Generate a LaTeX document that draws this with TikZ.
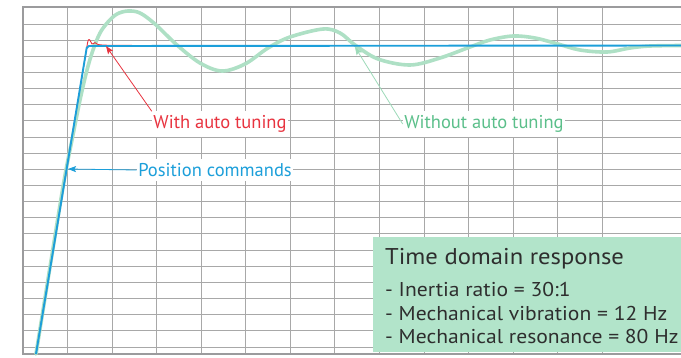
\documentclass[tikz,border=0pt]{standalone}
\usepackage{fontspec}
\setmainfont{PT Sans}
\newfontfamily\boxfont[FakeStretch=1.08]{PT Sans}
\usetikzlibrary{arrows.meta}
\definecolor{gridc}{HTML}{A8A8A8}
\definecolor{framec}{HTML}{9B9B9D}
\definecolor{bluec}{HTML}{1C9FDA}
\definecolor{redc}{HTML}{E8333F}
\definecolor{greenl}{HTML}{AEE0C5}
\definecolor{greent}{HTML}{5BBF8A}
\definecolor{boxc}{HTML}{B2E4CA}
\definecolor{textc}{HTML}{2E2E2E}
\tikzset{
  gridline/.style={gridc, line width=1pt},
  lbl/.style={fill=white, inner xsep=1.5pt, inner ysep=4pt, font=\fontsize{18.5}{20}\selectfont},
  boxtitle/.style={anchor=base west, inner sep=0pt, text=textc, font=\boxfont\fontsize{22.8}{24}\selectfont},
  boxline/.style={anchor=base west, inner sep=0pt, text=textc, font=\boxfont\fontsize{20}{22}\selectfont},
  tip/.style={-{Stealth[length=8pt,width=6pt,inset=1.5pt]}}
}
\begin{document}
\begin{tikzpicture}[x=1pt,y=-1pt]
\useasboundingbox (0,0) rectangle (681,357);
\fill[white] (0,0) rectangle (681,357);
% grid
\foreach \k in {1,...,13} \draw[gridline] ({23+44.57*\k},7) -- ({23+44.57*\k},354);
\foreach \k in {0,...,20} \draw[gridline] (23,{24+16.15*\k}) -- (681,{24+16.15*\k});
% frame
\draw[framec, line width=2.6pt] (681,7) -- (23,7) -- (23,354) -- (681,354);
% info box
\fill[boxc] (373,237) rectangle (681,352);
\node[boxtitle] (t0) at (385,264) {Time domain response};
\node[boxline] (t1) at (385,296) {- Inertia ratio = 30:1};
\node[boxline] (t2) at (385,320) {- Mechanical vibration = 12 Hz};
\node[boxline] (t3) at (385,343) {- Mechanical resonance = 80 Hz};
% green response (without auto tuning)
\draw[greenl, line width=3.6pt, line cap=round] plot[smooth, tension=0.55] coordinates {
 (36,354) (50,267) (64,181) (72,140) (80,100) (87,70) (93,50) (100,33) (108,22) (117,14) (128,11)
 (140,13) (155,24) (177,45) (200,63) (222,71) (245,64) (268,48) (290,37) (323,29) (340,33)
 (355,45) (378,59) (410,65) (440,58) (470,47) (490,40) (513,36) (535,38) (558,44) (580,50)
 (607,52) (630,48) (650,46) (681,45.5)};
% red response (with auto tuning)
\draw[redc, line width=0.9pt] (36,354) -- (87.6,42.5)
  .. controls (88.2,39) and (89.6,38.5) .. (90.6,41.5)
  .. controls (91.4,44) and (92.6,45) .. (93.6,43.5)
  .. controls (94.4,42.3) and (95.4,42.3) .. (96.4,43.5)
  .. controls (98,45) and (100,45) .. (110,45.3) -- (140,45.5);
% position command (blue)
\draw[bluec, line width=1.9pt, rounded corners=2pt] (36,354) -- (87,46) -- (681,45.5);
% labels
\node[lbl, text=redc] (wat) at (220,124) {With auto tuning};
\node[lbl, text=bluec] (pc) at (215,170) {Position commands};
\node[lbl, text=greent] (wo) at (484,124) {Without auto tuning};
\coordinate (redtip) at (106,46);
\coordinate (bluetip) at (68,169);
\coordinate (greentip) at (355,47);
\draw[redc, line width=0.8pt, tip] (wat.north west) -- (redtip);
\draw[bluec, line width=0.8pt, tip] (pc.west) -- (bluetip);
\draw[greenl!80!greent, line width=0.8pt, tip] (wo.west) -- (greentip);
\end{tikzpicture}
\end{document}
